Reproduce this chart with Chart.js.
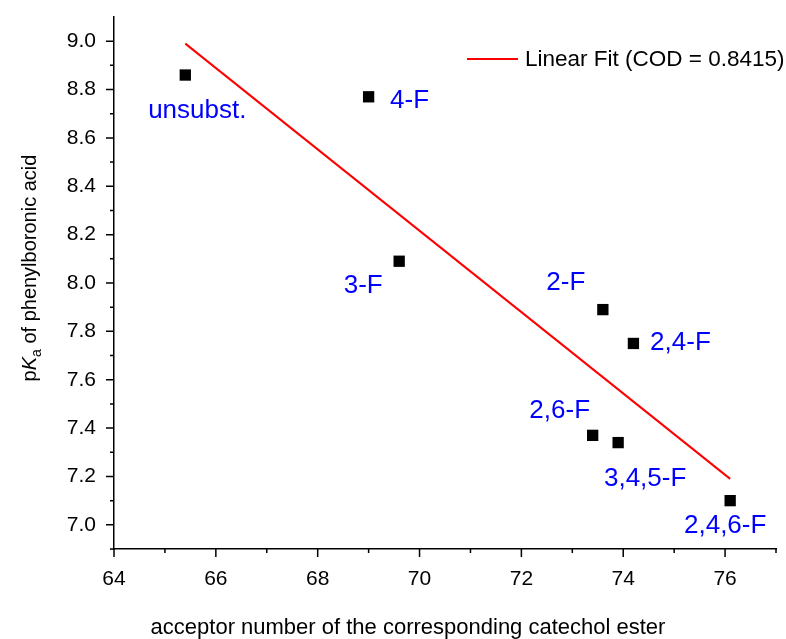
<!DOCTYPE html>
<html>
<head>
<meta charset="utf-8">
<script src="https://cdn.jsdelivr.net/npm/chart.js@4"></script>
<style>
  html, body { margin: 0; padding: 0; background: #fff; }
  #wrap { width: 786px; height: 639px; }
</style>
</head>
<body>
<div id="wrap"><canvas id="chart"></canvas></div>
<script>
// measured points
const compounds = ["unsubst.", "4-F", "3-F", "2-F", "2,4-F", "2,6-F", "3,4,5-F", "2,4,6-F"];
const acceptorNumber = [65.4, 69.0, 69.6, 73.6, 74.2, 73.4, 73.9, 76.1];
const pKa = [8.86, 8.77, 8.09, 7.89, 7.75, 7.37, 7.34, 7.10];

// linear fit, end points
const fitX = [65.4, 76.1];
const fitY = [8.99, 7.19];

const xTicks = [64, 66, 68, 70, 72, 74, 76];
const yTicks = [7.0, 7.2, 7.4, 7.6, 7.8, 8.0, 8.2, 8.4, 8.6, 8.8, 9.0];

const FONT = "'Liberation Sans', Arial, sans-serif";

// pixel offsets of the blue labels from their point
const labelOffsets = [[12, 36], [41, 4], [-36, 25], [-37, -27], [47, -1], [-33, -25], [27, 36], [-5, 25]];

const extras = {
  id: "extras",
  afterDraw(chart) {
    const ctx = chart.ctx;
    const x = chart.scales.x, y = chart.scales.y;
    const area = chart.chartArea;
    ctx.save();

    // ticks, major and minor
    ctx.strokeStyle = "#000";
    ctx.lineWidth = 1.5;
    ctx.beginPath();
    for (let v = 64; v <= 77; v++) {
      const px = x.getPixelForValue(v);
      const len = v % 2 === 0 ? 8 : 4;
      ctx.moveTo(px, area.bottom);
      ctx.lineTo(px, area.bottom + len);
    }
    for (let i = 0; i <= 21; i++) {
      const v = 6.9 + i * 0.1;
      const py = y.getPixelForValue(v);
      const major = Math.round(v * 10) % 2 === 0;
      ctx.moveTo(area.left, py);
      ctx.lineTo(area.left - (major ? 8 : 4), py);
    }
    ctx.stroke();

    // point labels
    const meta = chart.getDatasetMeta(0);
    ctx.fillStyle = "#0000ff";
    ctx.font = "26px " + FONT;
    ctx.textAlign = "center";
    ctx.textBaseline = "middle";
    meta.data.forEach((pt, i) => {
      ctx.fillText(compounds[i], pt.x + labelOffsets[i][0], pt.y + labelOffsets[i][1]);
    });

    // legend
    ctx.strokeStyle = "#ff0000";
    ctx.lineWidth = 2;
    ctx.beginPath();
    ctx.moveTo(467, 59);
    ctx.lineTo(518, 59);
    ctx.stroke();
    ctx.fillStyle = "#000";
    ctx.textAlign = "left";
    ctx.font = "22.5px " + FONT;
    ctx.fillText(chart.data.datasets[1].label, 525, 60);

    // x title
    ctx.textAlign = "center";
    ctx.textBaseline = "alphabetic";
    ctx.font = "22px " + FONT;
    ctx.fillText("acceptor number of the corresponding catechol ester", 408, 634);

    // y title with italic K and subscript a
    ctx.translate(36, 268);
    ctx.rotate(-Math.PI / 2);
    const parts = [
      ["p", "20px " + FONT, 0],
      ["K", "italic 20px " + FONT, 0],
      ["a", "14px " + FONT, 5],
      [" of phenylboronic acid", "20px " + FONT, 0],
    ];
    let total = 0;
    parts.forEach(p => { ctx.font = p[1]; total += ctx.measureText(p[0]).width; });
    let cx = -total / 2;
    ctx.textAlign = "left";
    parts.forEach(p => {
      ctx.font = p[1];
      ctx.fillText(p[0], cx, p[2]);
      cx += ctx.measureText(p[0]).width;
    });
    ctx.restore();
  },
};

new Chart(document.getElementById("chart"), {
  type: "scatter",
  data: {
    datasets: [
      {
        label: "data",
        data: acceptorNumber.map((v, i) => ({ x: v, y: pKa[i] })),
        pointStyle: "rect",
        radius: 8,
        borderWidth: 0,
        backgroundColor: "#000",
      },
      {
        type: "line",
        label: "Linear Fit (COD = 0.8415)",
        data: fitX.map((v, i) => ({ x: v, y: fitY[i] })),
        borderColor: "#ff0000",
        borderWidth: 2,
        pointRadius: 0,
        fill: false,
      },
    ],
  },
  options: {
    responsive: true,
    maintainAspectRatio: false,
    animation: false,
    layout: { padding: { top: 17, right: 10, left: 0, bottom: 0 } },
    plugins: {
      legend: { display: false },
      tooltip: { enabled: false },
    },
    scales: {
      x: {
        type: "linear",
        min: 64,
        max: 77,
        afterBuildTicks: s => { s.ticks = xTicks.map(v => ({ value: v })); },
        afterFit: s => { s.height = 90; s.paddingLeft = 0; s.paddingRight = 0; },
        grid: { display: false, drawTicks: false },
        border: { display: true, color: "#000", width: 1.5 },
        ticks: { color: "#000", font: { family: FONT, size: 21 }, padding: 18, maxRotation: 0 },
      },
      y: {
        type: "linear",
        min: 6.9,
        max: 9.1,
        afterBuildTicks: s => { s.ticks = yTicks.map(v => ({ value: v })); },
        afterFit: s => { s.width = 114; s.paddingTop = 0; s.paddingBottom = 0; },
        grid: { display: false, drawTicks: false },
        border: { display: true, color: "#000", width: 1.5 },
        ticks: {
          color: "#000",
          font: { family: FONT, size: 21 },
          padding: 18,
          callback: v => v.toFixed(1),
        },
      },
    },
  },
  plugins: [extras],
});
</script>
</body>
</html>
